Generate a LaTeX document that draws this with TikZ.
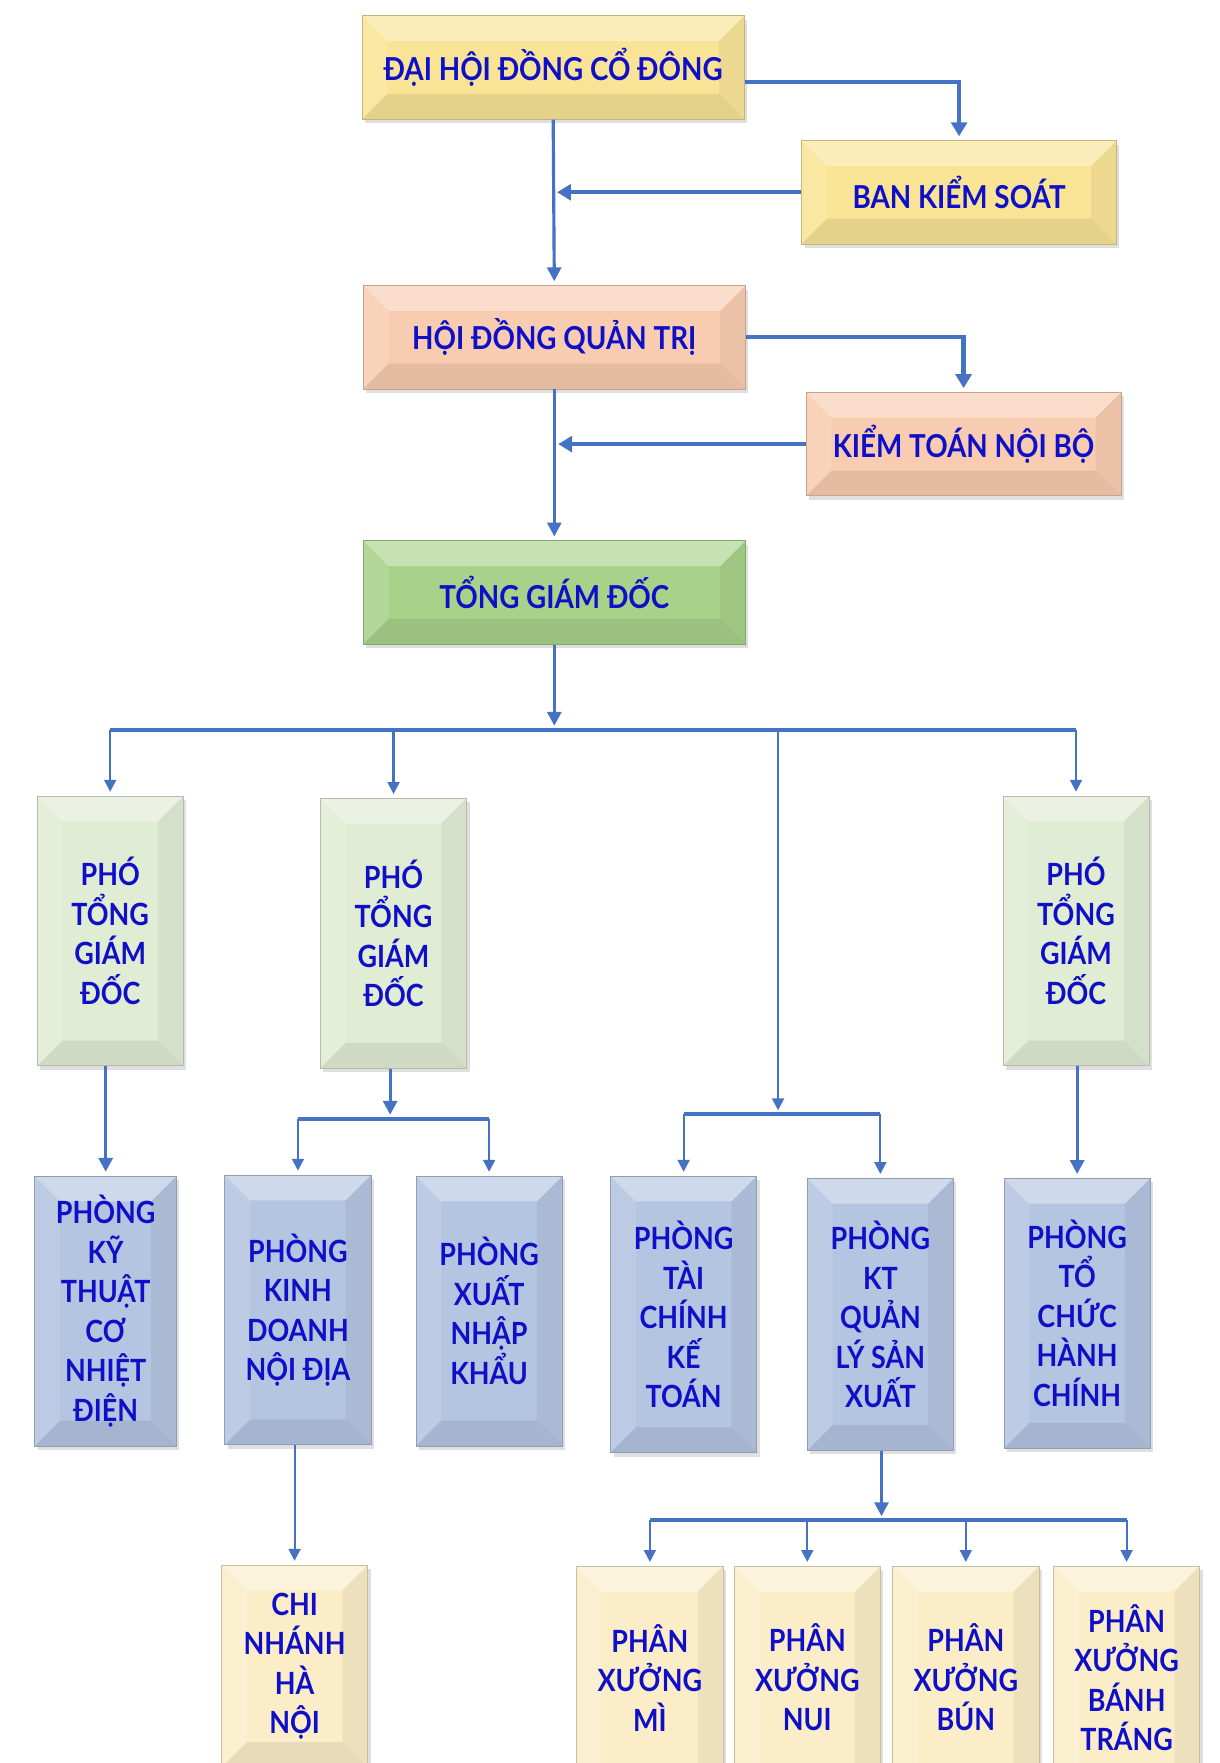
\documentclass[tikz,border=0pt]{standalone}
\usepackage{fontspec}
\setmainfont[FakeStretch=0.88]{Lato}
\usetikzlibrary{arrows.meta,shadows}

\definecolor{lineblue}{RGB}{70,114,196}
\definecolor{txtblue}{RGB}{15,15,200}
\definecolor{boxyellow}{RGB}{249,228,150}
\definecolor{boxsalmon}{RGB}{248,204,176}
\definecolor{boxgreen}{RGB}{168,210,138}
\definecolor{boxpale}{RGB}{225,236,212}
\definecolor{boxblue}{RGB}{180,197,225}
\definecolor{boxcream}{RGB}{250,237,200}

\tikzset{
  unit/.style={fill=#1, draw=#1!80!black, line width=0.4pt, align=center, text=txtblue,
    inner sep=0pt, font=\bfseries\fontsize{16}{20}\selectfont,
    drop shadow={shadow xshift=1.5pt,shadow yshift=-2pt,opacity=.25},
    path picture={
      \fill[white,opacity=.35] (path picture bounding box.north west) -- (path picture bounding box.north east)
        -- ([xshift=-4.5mm,yshift=-4.5mm]path picture bounding box.north east)
        -- ([xshift=4.5mm,yshift=-4.5mm]path picture bounding box.north west) -- cycle;
      \fill[white,opacity=.12] (path picture bounding box.north west) -- (path picture bounding box.south west)
        -- ([xshift=4.5mm,yshift=4.5mm]path picture bounding box.south west)
        -- ([xshift=4.5mm,yshift=-4.5mm]path picture bounding box.north west) -- cycle;
      \fill[black,opacity=.08] (path picture bounding box.south west) -- (path picture bounding box.south east)
        -- ([xshift=-4.5mm,yshift=4.5mm]path picture bounding box.south east)
        -- ([xshift=4.5mm,yshift=4.5mm]path picture bounding box.south west) -- cycle;
      \fill[black,opacity=.05] (path picture bounding box.north east) -- (path picture bounding box.south east)
        -- ([xshift=-4.5mm,yshift=4.5mm]path picture bounding box.south east)
        -- ([xshift=-4.5mm,yshift=-4.5mm]path picture bounding box.north east) -- cycle;
    }},
  wide/.style={unit=#1, minimum width=6.8cm, minimum height=1.84cm},
  side/.style={unit=#1, minimum width=5.6cm, minimum height=1.84cm},
  tall/.style={unit=#1, minimum width=2.6cm, minimum height=4.8cm, font=\bfseries\fontsize{15.5}{20}\selectfont},
  low/.style={unit=#1, minimum width=2.6cm, minimum height=3.96cm, font=\bfseries\fontsize{15.5}{20}\selectfont},
  conn/.style={draw=lineblue, line width=2.2pt, shorten >=2pt, -{Triangle[length=7pt,width=8pt]}},
  connmid/.style={draw=lineblue, line width=1.6pt, shorten >=2pt, -{Triangle[length=7pt,width=7pt]}},
  connthin/.style={draw=lineblue, line width=1.1pt, shorten >=2pt, -{Triangle[length=6pt,width=6pt]}},
  bus/.style={draw=lineblue, line width=2.2pt},
  bus2/.style={draw=lineblue, line width=1.8pt}
}

\begin{document}
\begin{tikzpicture}[x=0.02cm, y=-0.02cm]
  \useasboundingbox (0,0) rectangle (1085,1568);
  \fill[white] (0,0) rectangle (1085,1568);

  % top
  \node[wide=boxyellow] (dhdcd) at (492,60) {ĐẠI HỘI ĐỒNG CỔ ĐÔNG};
  \node[side=boxyellow] (bks) at (853,171) {BAN KIỂM SOÁT};
  \node[wide=boxsalmon] (hdqt) at (493,300) {HỘI ĐỒNG QUẢN TRỊ};
  \node[side=boxsalmon] (ktnb) at (857,395) {KIỂM TOÁN NỘI BỘ};
  \node[wide=boxgreen] (tgd) at (493,527) {TỔNG GIÁM ĐỐC};

  % pho tong giam doc
  \node[tall=boxpale] (ptgdA) at (98,828) {PHÓ\\TỔNG\\GIÁM\\ĐỐC};
  \node[tall=boxpale] (ptgdB) at (350,830) {PHÓ\\TỔNG\\GIÁM\\ĐỐC};
  \node[tall=boxpale] (ptgdC) at (957,828) {PHÓ\\TỔNG\\GIÁM\\ĐỐC};

  % phong ban
  \node[tall=boxblue, minimum width=2.52cm] (pkt) at (94,1166) {PHÒNG\\KỸ\\THUẬT\\CƠ\\NHIỆT\\ĐIỆN};
  \node[tall=boxblue] (pkd) at (265,1165) {PHÒNG\\KINH\\DOANH\\NỘI ĐỊA};
  \node[tall=boxblue] (pxnk) at (435,1166) {PHÒNG\\XUẤT\\NHẬP\\KHẨU};
  \node[tall=boxblue, minimum height=4.92cm] (ptckt) at (608,1169) {PHÒNG\\TÀI\\CHÍNH\\KẾ\\TOÁN};
  \node[tall=boxblue, minimum height=4.84cm] (pktql) at (783,1169) {PHÒNG\\KT\\QUẢN\\LÝ SẢN\\XUẤT};
  \node[tall=boxblue] (ptchc) at (958,1168) {PHÒNG\\TỔ\\CHỨC\\HÀNH\\CHÍNH};

  % chi nhanh, phan xuong
  \node[low=boxcream, minimum height=3.6cm] (cnhn) at (262,1482) {CHI\\NHÁNH\\HÀ\\NỘI};
  \node[low=boxcream] (pxmi) at (578,1492) {PHÂN\\XƯỞNG\\MÌ};
  \node[low=boxcream] (pxnui) at (718,1492) {PHÂN\\XƯỞNG\\NUI};
  \node[low=boxcream] (pxbun) at (859,1492) {PHÂN\\XƯỞNG\\BÚN};
  \node[low=boxcream] (pxbt) at (1002,1492) {PHÂN\\XƯỞNG\\BÁNH\\TRÁNG};

  % connectors
  \draw[conn] ([yshift=-2.6mm]dhdcd.east) -| (bks.north);
  \draw[conn] (bks.west) -- (bks.west -| dhdcd.south);
  \draw[connmid] (dhdcd.south) -- (hdqt.north);
  \draw[conn] (hdqt.east) -| (ktnb.north);
  \draw[conn] (ktnb.west) -- (ktnb.west -| hdqt.south);
  \draw[connmid] (hdqt.south) -- (tgd.north);

  \coordinate (busA) at (493,649);
  \coordinate (busC) at (692,991);
  \draw[connmid] (tgd.south) -- (busA);
  \draw[bus] (ptgdA.north |- busA) -- (ptgdC.north |- busA);
  \foreach \n in {ptgdA,ptgdB,ptgdC}
    \draw[connthin] (\n.north |- busA) -- (\n.north);
  \draw[connthin] (busC |- busA) -- (busC);

  \draw[connmid] (pkt.north |- ptgdA.south) -- (pkt.north);
  \draw[connmid] (ptchc.north |- ptgdC.south) -- (ptchc.north);

  \coordinate (busB) at (347,995);
  \draw[connmid] (busB |- ptgdB.south) -- (busB);
  \draw[bus2] (pkd.north |- busB) -- (pxnk.north |- busB);
  \foreach \n in {pkd,pxnk}
    \draw[connthin] (\n.north |- busB) -- (\n.north);

  \draw[bus2] (ptckt.north |- busC) -- (pktql.north |- busC);
  \foreach \n in {ptckt,pktql}
    \draw[connthin] (\n.north |- busC) -- (\n.north);

  \draw[connthin] (cnhn.north |- pkd.south) -- (cnhn.north);

  \coordinate (busD) at (784,1352);
  \draw[connmid] (busD |- pktql.south) -- (busD);
  \draw[bus2] (pxmi.north |- busD) -- (pxbt.north |- busD);
  \foreach \n in {pxmi,pxnui,pxbun,pxbt}
    \draw[connthin] (\n.north |- busD) -- (\n.north);
\end{tikzpicture}
\end{document}
